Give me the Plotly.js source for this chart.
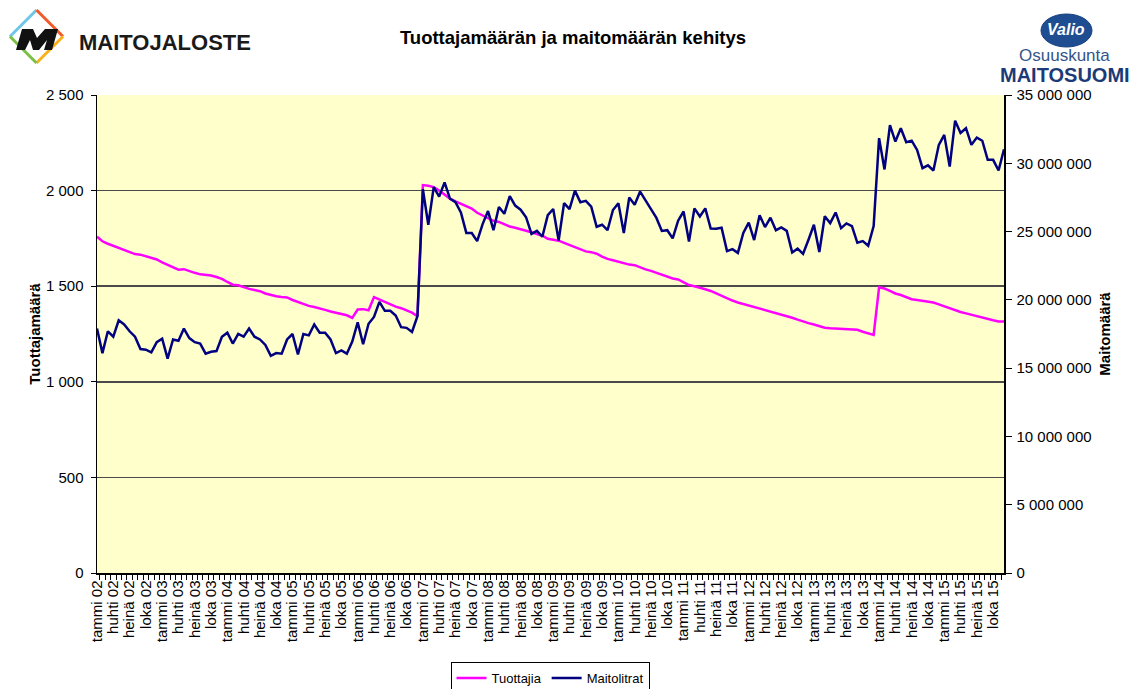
<!DOCTYPE html>
<html>
<head>
<meta charset="utf-8">
<script src="https://cdn.plot.ly/plotly-3.0.1.min.js"></script>
<style>
html,body{margin:0;padding:0;background:#ffffff;}
#chart{width:1146px;height:689px;}
</style>
</head>
<body>
<div id="chart"></div>
<script>
// ---- Categories / labels ----
const monthNames = ['tammi','helmi','maalis','huhti','touko','kesä','heinä','elo','syys','loka','marras','joulu'];
const years = ['02','03','04','05','06','07','08','09','10','11','12','13','14','15'];
const labelledMonths = ['tammi','huhti','heinä','loka'];

// ---- Series: Tuottajia (number of producers), monthly 01/2002 - 12/2015 ----
const tuottajia = [
  1759,1735,1722,1712,1700,1690,1680,1668,1665,1656,1645,1640,
  1625,1612,1597,1586,1589,1578,1570,1562,1560,1556,1548,1538,
  1522,1508,1505,1494,1486,1480,1474,1462,1454,1447,1443,1441,
  1428,1418,1405,1397,1391,1385,1376,1368,1362,1355,1348,1334,
  1378,1380,1374,1443,1430,1416,1402,1393,1385,1375,1362,1343,
  2029,2025,2018,2000,1978,1958,1944,1930,1918,1906,1884,1870,
  1860,1842,1836,1822,1812,1806,1796,1790,1782,1774,1764,1748,
  1742,1738,1727,1716,1703,1690,1682,1678,1670,1655,1643,1636,
  1628,1618,1613,1610,1598,1588,1580,1570,1562,1552,1540,1535,
  1520,1506,1500,1494,1484,1475,1462,1450,1440,1425,1415,1407,
  1399,1392,1385,1378,1367,1358,1352,1342,1335,1325,1315,1307,
  1300,1292,1283,1280,1279,1278,1276,1275,1272,1262,1255,1245,
  1494,1488,1475,1462,1454,1442,1432,1428,1424,1420,1415,1405,
  1395,1383,1373,1365,1358,1350,1345,1336,1330,1322,1316,1315
];

// ---- Series: Maitolitrat (litres of milk per month) ----
const maitolitrat = [
  17900000,16100000,17700000,17300000,18500000,18200000,17700000,17300000,16400000,16350000,16150000,16900000,
  17150000,15700000,17100000,17000000,17900000,17200000,16900000,16800000,16060000,16200000,16250000,17300000,
  17600000,16800000,17500000,17300000,17900000,17300000,17100000,16700000,15900000,16100000,16060000,17100000,
  17500000,16000000,17500000,17400000,18200000,17600000,17600000,17100000,16100000,16300000,16060000,16950000,
  18350000,16750000,18250000,18750000,19850000,19200000,19200000,18850000,18000000,17950000,17650000,18800000,
  28100000,25500000,28250000,27560000,28600000,27400000,27150000,26400000,24900000,24900000,24300000,25550000,
  26500000,25100000,26800000,26300000,27600000,26900000,26600000,26050000,24830000,25050000,24620000,26200000,
  26650000,24350000,27080000,26650000,28000000,27150000,27250000,26830000,25350000,25500000,25100000,26580000,
  27080000,24900000,27500000,26960000,27930000,27250000,26650000,26000000,25050000,25100000,24500000,25800000,
  26470000,24270000,26700000,26100000,26700000,25220000,25200000,25280000,23570000,23710000,23440000,24900000,
  25660000,24380000,26200000,25330000,26020000,25100000,25300000,25050000,23470000,23750000,23370000,24400000,
  25500000,23500000,26120000,25620000,26400000,25250000,25600000,25400000,24180000,24300000,23960000,25400000,
  31840000,29550000,32800000,31590000,32570000,31550000,31660000,30980000,29640000,29850000,29470000,31350000,
  32080000,29760000,33120000,32220000,32570000,31350000,31880000,31650000,30250000,30250000,29470000,31030000
];

// ---- Axis ticks ----
const leftTicks = [0, 500, 1000, 1500, 2000, 2500];
const rightTicks = [0, 5000000, 10000000, 15000000, 20000000, 25000000, 30000000, 35000000];
const seriesNames = ['Tuottajia', 'Maitolitrat'];

// build category labels
const months = [];
years.forEach(y => monthNames.forEach(m => months.push(m + ' ' + y)));
const monthText = months.map(lbl => labelledMonths.includes(lbl.split(' ')[0]) ? lbl : '');

// plot-area pixel frame -> paper coords for decorative logo elements
const W = 1146, H = 689;
const L = 97, R = 1004, T = 95, B = 573;
const PX = x => (x - L) / (R - L);
const PY = y => (B - y) / (B - T);
const path = pts => 'M ' + pts.map(p => PX(p[0]) + ',' + PY(p[1])).join(' L ') + ' Z';

const traces = [
  {
    x: months, y: tuottajia, name: seriesNames[0], type: 'scatter', mode: 'lines',
    line: {color: '#FF00FF', width: 2.5}, yaxis: 'y'
  },
  {
    x: months, y: maitolitrat, name: seriesNames[1], type: 'scatter', mode: 'lines',
    line: {color: '#000080', width: 2.5}, yaxis: 'y2'
  }
];

const fontFam = 'Liberation Sans, Arial, sans-serif';

const shapes = [
  // Maitojaloste diamond
  {type:'line', xref:'paper', yref:'paper', x0:PX(10), y0:PY(36.5), x1:PX(36.5), y1:PY(10), line:{color:'#6EC6E8', width:3}},
  {type:'line', xref:'paper', yref:'paper', x0:PX(36.5), y0:PY(10), x1:PX(63), y1:PY(36.5), line:{color:'#F05A28', width:3}},
  {type:'line', xref:'paper', yref:'paper', x0:PX(63), y0:PY(36.5), x1:PX(36.5), y1:PY(63), line:{color:'#F7B21B', width:3}},
  {type:'line', xref:'paper', yref:'paper', x0:PX(36.5), y0:PY(63), x1:PX(10), y1:PY(36.5), line:{color:'#7BC043', width:3}},
  // stylised black M
  {type:'path', xref:'paper', yref:'paper', fillcolor:'#111111', line:{width:0},
   path: path([[16,50],[22,29],[33,29],[37,38],[45,29],[58,29],[52,50],[44,50],[47,40],[39,50],[33,50],[30,40],[25,50]])},
  // Valio emblem
  {type:'circle', xref:'paper', yref:'paper', x0:PX(1041), x1:PX(1092), y0:PY(47), y1:PY(14),
   fillcolor:'#1E4D92', line:{color:'#16407F', width:1}}
];

const annotations = [
  {xref:'paper', yref:'paper', x:PX(77), y:PY(42), xanchor:'left', yanchor:'middle', showarrow:false,
   text:'<b>MAITOJALOSTE</b>', font:{family:fontFam, size:22, color:'#1a1a1a'}},
  {xref:'paper', yref:'paper', x:PX(1066), y:PY(30), xanchor:'center', yanchor:'middle', showarrow:false,
   text:'<b><i>Valio</i></b>', font:{family:fontFam, size:16, color:'#ffffff'}},
  {xref:'paper', yref:'paper', x:PX(1064), y:PY(56), xanchor:'center', yanchor:'middle', showarrow:false,
   text:'Osuuskunta', font:{family:fontFam, size:17, color:'#34548A'}},
  {xref:'paper', yref:'paper', x:PX(1065), y:PY(75), xanchor:'center', yanchor:'middle', showarrow:false,
   text:'<b>MAITOSUOMI</b>', font:{family:fontFam, size:20, color:'#1D3A78'}}
];

const layout = {
  width: W, height: H,
  margin: {l: L, r: W - R, t: T, b: H - B, pad: 0, autoexpand: false},
  paper_bgcolor: '#ffffff', plot_bgcolor: '#FFFFCC',
  separators: ', ',
  font: {family: fontFam, size: 15, color: '#000000'},
  title: {text: '<b>Tuottajamäärän ja maitomäärän kehitys</b>', font: {family: fontFam, size: 18.5, color: '#000'},
          x: 0.5, xref: 'container', xanchor: 'center', y: 1 - 38/H, yref: 'container', yanchor: 'middle'},
  showlegend: true,
  legend: {orientation: 'h', x: 550/W, xref: 'container', xanchor: 'center', y: 1 - 662/H, yref: 'container', yanchor: 'top',
           bordercolor: '#000000', borderwidth: 1, bgcolor: '#ffffff', font: {size: 13}, itemwidth: 30},
  xaxis: {
    type: 'category', tickvals: months, ticktext: monthText, tickangle: -90, tickson: 'boundaries',
    ticks: 'outside', ticklen: 5, tickcolor: '#000', tickwidth: 1,
    showline: true, linecolor: '#000', linewidth: 1.5, showgrid: false, zeroline: false,
    tickfont: {size: 15}, automargin: false
  },
  yaxis: {
    range: [0, 2500], tickvals: leftTicks, tickformat: ',', ticks: 'outside', ticklen: 5, tickcolor: '#000',
    showline: true, linecolor: '#000', linewidth: 1.5, showgrid: true, gridcolor: '#4a4a4a', gridwidth: 1.5,
    zeroline: false, automargin: false, ticklabelstandoff: 4,
    title: {text: '<b>Tuottajamäärä</b>', font: {size: 15}, standoff: 1}
  },
  yaxis2: {
    overlaying: 'y', side: 'right', range: [0, 35000000], tickvals: rightTicks, tickformat: ',',
    ticks: 'outside', ticklen: 6, tickcolor: '#000',
    showline: true, linecolor: '#000', linewidth: 1.5, showgrid: false, zeroline: false, automargin: false,
    ticklabelstandoff: 2,
    title: {text: '<b>Maitomäärä</b>', font: {size: 15}, standoff: 9}
  },
  shapes: shapes,
  annotations: annotations
};

Plotly.newPlot('chart', traces, layout, {displayModeBar: false, staticPlot: true});
</script>
</body>
</html>
